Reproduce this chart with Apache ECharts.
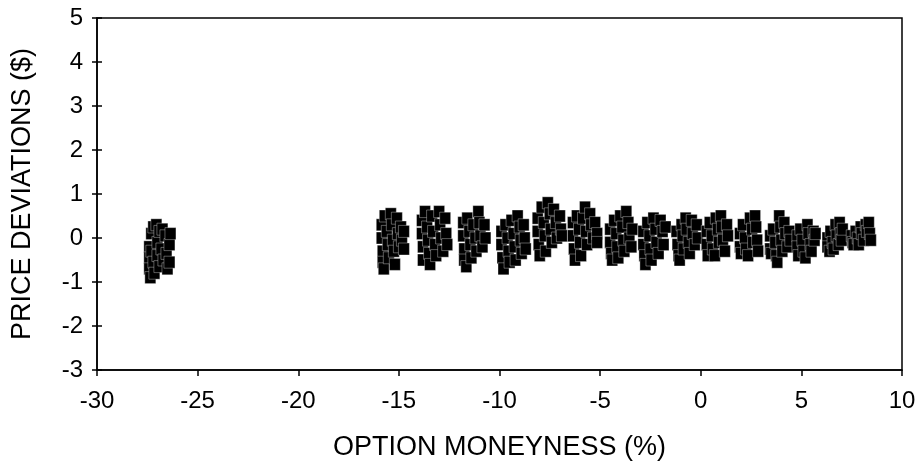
<!DOCTYPE html>
<html><head><meta charset="utf-8">
<script src="https://cdn.jsdelivr.net/npm/echarts@6/dist/echarts.min.js"></script>
<style>html,body{margin:0;padding:0;background:#fff}#c{width:920px;height:474px}</style>
</head><body><div id="c"></div>
<script>
const xTicks = [-30,-25,-20,-15,-10,-5,0,5,10];
const yTicks = [-3,-2,-1,0,1,2,3,4,5];
const xTitle = 'OPTION MONEYNESS (%)';
const yTitle = 'PRICE DEVIATIONS ($)';

const clusterA = [[-27.4,-0.2],[-27.4,-0.45],[-27.4,-0.7],[-27.35,-0.9],[-27.3,0.1],[-27.3,-0.3],[-27.2,0.25],[-27.2,-0.55],[-27.15,-0.8],[-27.05,0.3],[-27.0,-0.1],[-27.0,-0.4],[-26.9,0.15],[-26.9,-0.65],[-26.8,-0.25],[-26.75,0.2],[-26.7,-0.5],[-26.6,0.05],[-26.55,-0.35],[-26.5,-0.7],[-26.4,-0.15],[-26.4,-0.55],[-26.35,0.1]];
const clusterB = [[-15.85,0.3],[-15.85,0.0],[-15.8,-0.3],[-15.8,-0.55],[-15.75,-0.7],[-15.7,0.5],[-15.6,0.15],[-15.55,-0.15],[-15.5,-0.45],[-15.4,0.55],[-15.35,0.3],[-15.3,-0.05],[-15.25,-0.3],[-15.2,-0.6],[-15.1,0.45],[-15.05,0.1],[-15.0,-0.2],[-14.9,0.25],[-14.85,-0.05],[-14.75,0.15],[-14.75,-0.25]];
const clusterC = [[-13.85,0.4],[-13.85,0.1],[-13.8,-0.2],[-13.8,-0.5],[-13.7,0.6],[-13.6,0.25],[-13.55,-0.05],[-13.5,-0.35],[-13.45,-0.6],[-13.35,0.5],[-13.3,0.15],[-13.2,-0.15],[-13.15,-0.4],[-13.0,0.6],[-12.95,0.3],[-12.9,0.0],[-12.8,-0.3],[-12.7,0.45],[-12.65,0.1],[-12.6,-0.15]];
const clusterD = [[-11.8,0.35],[-11.8,0.05],[-11.75,-0.25],[-11.75,-0.5],[-11.65,-0.65],[-11.6,0.45],[-11.5,0.15],[-11.45,-0.15],[-11.4,-0.45],[-11.3,0.3],[-11.2,0.0],[-11.15,-0.3],[-11.05,0.6],[-11.0,0.35],[-10.95,0.05],[-10.85,-0.2],[-10.75,0.3],[-10.7,0.0]];
const clusterE = [[-9.9,0.15],[-9.9,-0.15],[-9.85,-0.45],[-9.8,-0.7],[-9.7,0.3],[-9.6,0.0],[-9.55,-0.3],[-9.5,-0.55],[-9.4,0.4],[-9.3,0.1],[-9.25,-0.2],[-9.2,-0.5],[-9.1,0.5],[-9.0,0.25],[-8.95,-0.05],[-8.9,-0.35],[-8.8,0.3],[-8.75,0.0],[-8.7,-0.25]];
const clusterF = [[-8.1,0.45],[-8.1,0.15],[-8.05,-0.15],[-8.0,-0.4],[-7.9,0.7],[-7.8,0.35],[-7.75,0.05],[-7.7,-0.3],[-7.6,0.8],[-7.5,0.55],[-7.45,0.2],[-7.4,-0.1],[-7.3,0.65],[-7.2,0.35],[-7.15,0.0],[-7.0,0.5],[-6.95,0.2],[-6.9,0.05]];
const clusterG = [[-6.35,0.35],[-6.35,0.05],[-6.3,-0.25],[-6.25,-0.5],[-6.15,0.5],[-6.05,0.2],[-6.0,-0.1],[-5.95,-0.4],[-5.85,0.45],[-5.75,0.7],[-5.7,0.15],[-5.65,-0.15],[-5.5,0.55],[-5.45,0.3],[-5.35,0.0],[-5.25,0.35],[-5.15,0.1],[-5.15,-0.1]];
const clusterH = [[-4.5,0.2],[-4.5,-0.1],[-4.45,-0.35],[-4.4,-0.5],[-4.3,0.4],[-4.2,0.1],[-4.15,-0.2],[-4.1,-0.45],[-4.0,0.5],[-3.9,0.25],[-3.85,-0.05],[-3.8,-0.3],[-3.7,0.6],[-3.6,0.35],[-3.55,0.0],[-3.45,-0.2],[-3.4,0.2]];
const clusterI = [[-2.85,0.15],[-2.85,-0.15],[-2.8,-0.4],[-2.75,-0.6],[-2.65,0.35],[-2.55,0.05],[-2.5,-0.25],[-2.45,-0.5],[-2.35,0.45],[-2.25,0.2],[-2.2,-0.1],[-2.1,-0.35],[-2.0,0.4],[-1.9,0.15],[-1.85,-0.15],[-1.75,0.25]];
const clusterJ = [[-1.2,0.15],[-1.15,-0.15],[-1.1,-0.4],[-1.05,-0.5],[-0.95,0.3],[-0.9,0.05],[-0.85,-0.25],[-0.75,0.45],[-0.7,0.2],[-0.6,-0.1],[-0.55,-0.35],[-0.45,0.4],[-0.4,0.1],[-0.3,-0.15],[-0.2,0.3],[-0.15,0.0]];
const clusterK = [[0.3,0.15],[0.3,-0.15],[0.35,-0.4],[0.45,0.35],[0.55,0.05],[0.6,-0.25],[0.7,-0.4],[0.75,0.45],[0.85,0.2],[0.9,-0.1],[1.0,0.5],[1.05,0.25],[1.1,-0.05],[1.2,-0.3],[1.3,0.3],[1.35,0.05]];
const clusterL = [[1.95,0.1],[1.95,-0.2],[2.0,-0.35],[2.1,0.3],[2.2,0.0],[2.25,-0.25],[2.35,-0.4],[2.45,0.45],[2.55,0.2],[2.6,-0.1],[2.7,0.5],[2.75,0.25],[2.8,-0.05],[2.85,-0.3]];
const clusterM = [[3.45,0.05],[3.45,-0.25],[3.5,-0.35],[3.6,0.2],[3.7,-0.1],[3.75,-0.4],[3.8,-0.55],[3.9,0.5],[3.95,0.25],[4.0,-0.05],[4.05,-0.3],[4.15,0.35],[4.2,0.1],[4.3,-0.2],[4.4,0.15],[4.45,-0.05]];
const clusterN = [[4.8,0.05],[4.8,-0.2],[4.85,-0.4],[4.95,0.2],[5.05,-0.05],[5.1,-0.3],[5.2,-0.45],[5.3,0.3],[5.35,0.1],[5.45,-0.15],[5.5,-0.3],[5.6,0.15],[5.65,-0.05],[5.7,0.1]];
const clusterO = [[6.3,0.0],[6.3,-0.2],[6.4,-0.3],[6.45,0.15],[6.55,-0.1],[6.6,-0.25],[6.7,0.3],[6.75,0.05],[6.85,-0.15],[6.9,0.35],[6.95,0.1],[7.0,-0.05],[7.05,0.2]];
const clusterP = [[7.5,0.05],[7.55,-0.1],[7.6,-0.15],[7.7,0.15],[7.8,0.0],[7.85,-0.15],[7.95,0.25],[8.0,0.1],[8.1,-0.05],[8.2,0.3],[8.25,0.15],[8.35,0.35],[8.4,0.1],[8.45,-0.05]];

const allPoints = [].concat(clusterA, clusterB, clusterC, clusterD, clusterE, clusterF, clusterG, clusterH,
  clusterI, clusterJ, clusterK, clusterL, clusterM, clusterN, clusterO, clusterP);

const font = '"Liberation Sans", Arial, sans-serif';
const chart = echarts.init(document.getElementById('c'), null, {renderer: 'canvas'});
const lineStyle = {color: '#000', width: 1.5};
chart.setOption({
  animation: false,
  backgroundColor: '#fff',
  grid: {left: 97, right: 18, top: 18, bottom: 104, show: true, borderColor: '#000', borderWidth: 1.5},
  xAxis: {
    type: 'value', min: xTicks[0], max: xTicks[xTicks.length - 1], interval: 5,
    name: xTitle, nameLocation: 'middle', nameGap: 64,
    nameTextStyle: {fontFamily: font, fontSize: 27, color: '#000'},
    axisLine: {onZero: false, lineStyle: lineStyle},
    axisTick: {show: true, length: 6, lineStyle: lineStyle},
    axisLabel: {fontFamily: font, fontSize: 24, color: '#000', margin: 19},
    splitLine: {show: false}
  },
  yAxis: [{
    type: 'value', min: yTicks[0], max: yTicks[yTicks.length - 1], interval: 1,
    name: yTitle, nameLocation: 'middle', nameGap: 61,
    nameTextStyle: {fontFamily: font, fontSize: 27, color: '#000'},
    axisLine: {onZero: false, lineStyle: lineStyle},
    axisTick: {show: true, length: 5, lineStyle: lineStyle},
    axisLabel: {fontFamily: font, fontSize: 24, color: '#000', margin: 14},
    splitLine: {show: false}
  }, {
    type: 'value', min: yTicks[0], max: yTicks[yTicks.length - 1], interval: 1, position: 'left',
    axisLine: {show: false, onZero: false},
    axisTick: {show: true, inside: true, length: 5, lineStyle: lineStyle},
    axisLabel: {show: false},
    splitLine: {show: false}
  }],
  series: [{
    type: 'scatter',
    data: allPoints,
    symbol: 'rect',
    symbolSize: [11, 12],
    itemStyle: {color: '#000', borderColor: '#fff', borderWidth: 0.35, opacity: 1}
  }]
});
</script></body></html>
